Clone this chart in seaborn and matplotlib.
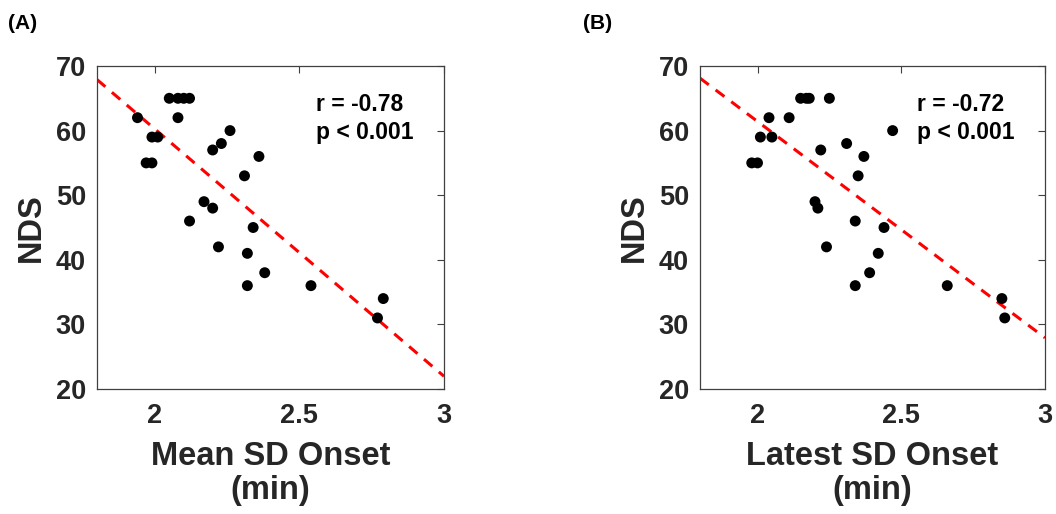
import numpy as np
import pandas as pd
import matplotlib
matplotlib.use("Agg")
import matplotlib.pyplot as plt
import seaborn as sns

# ---- data ----
mean_onset = [1.94, 2.05, 2.08, 2.10, 2.12, 2.08, 1.99, 2.01, 1.97, 1.99, 2.26, 2.23, 2.20,
              2.36, 2.31, 2.17, 2.20, 2.12, 2.34, 2.22, 2.32, 2.38, 2.32, 2.54, 2.79, 2.77]
nds_a = [62, 65, 65, 65, 65, 62, 59, 59, 55, 55, 60, 58, 57,
         56, 53, 49, 48, 46, 45, 42, 41, 38, 36, 36, 34, 31]

latest_onset = [1.98, 2.00, 2.04, 2.01, 2.05, 2.11, 2.15, 2.17, 2.18, 2.25, 2.22, 2.31, 2.47,
                2.37, 2.35, 2.20, 2.21, 2.34, 2.44, 2.24, 2.42, 2.39, 2.34, 2.66, 2.85, 2.86]
nds_b = [55, 55, 62, 59, 59, 62, 65, 65, 65, 65, 57, 58, 60,
         56, 53, 49, 48, 46, 45, 42, 41, 38, 36, 36, 34, 31]

panel_labels = ["(A)", "(B)"]
x_labels = ["Mean SD Onset\n(min)", "Latest SD Onset\n(min)"]
stats_text = [("r = -0.78", "p < 0.001"), ("r = -0.72", "p < 0.001")]
x_ticks = [2, 2.5, 3]
x_tick_labels = ["2", "2.5", "3"]
y_ticks = [20, 30, 40, 50, 60, 70]

sns.set_style("white")
plt.rcParams['font.family'] = ['Liberation Sans', 'DejaVu Sans']
plt.rcParams['font.weight'] = 'bold'

txt = '#262626'
fig = plt.figure(figsize=(10.56, 5.14), dpi=100)
axA = fig.add_axes([97/1056, 125/514, 347/1056, 323/514])
axB = fig.add_axes([700/1056, 125/514, 345/1056, 323/514])

datasets = [(axA, mean_onset, nds_a), (axB, latest_onset, nds_b)]
for i, (ax, xs, ys) in enumerate(datasets):
    df = pd.DataFrame({"x": xs, "y": ys})
    ax.set_xlim(1.8, 3)
    ax.set_ylim(20, 70)
    sns.regplot(data=df, x="x", y="y", ax=ax, ci=None, truncate=False,
                scatter_kws=dict(s=62, color='black', edgecolor='none', alpha=1, zorder=3),
                line_kws=dict(color='#ff0000', lw=2.2, dashes=(3.6, 2.8), zorder=2))
    ax.set_xlim(1.8, 3)
    ax.set_ylim(20, 70)
    ax.set_xticks(x_ticks)
    ax.set_xticklabels(x_tick_labels)
    ax.set_yticks(y_ticks)
    ax.tick_params(direction='in', length=5, width=0.8, color='#404040',
                   top=True, right=True, labelsize=19.5, labelcolor=txt)
    ax.tick_params(axis='x', pad=10)
    ax.tick_params(axis='y', pad=8)
    for lab in ax.get_xticklabels() + ax.get_yticklabels():
        lab.set_fontweight('bold')
    for sp in ax.spines.values():
        sp.set_visible(True)
        sp.set_color('#404040')
        sp.set_linewidth(0.9)
    ax.set_xlabel(x_labels[i], fontsize=23.5, fontweight='bold', color=txt, labelpad=9,
                  linespacing=1.1)
    ax.set_ylabel("NDS", fontsize=23.5, fontweight='bold', color=txt, labelpad=6)
    ax.text(0.63, 0.915, stats_text[i][0], transform=ax.transAxes, fontsize=16.5,
            fontweight='bold', color='black', va='top', ha='left')
    ax.text(0.63, 0.83, stats_text[i][1], transform=ax.transAxes, fontsize=16.5,
            fontweight='bold', color='black', va='top', ha='left')

fig.text(8/1056, 1 - 29/514, panel_labels[0], fontsize=15, fontweight='bold', color='black')
fig.text(583/1056, 1 - 29/514, panel_labels[1], fontsize=15, fontweight='bold', color='black')

fig.savefig("out.png", dpi=100)
